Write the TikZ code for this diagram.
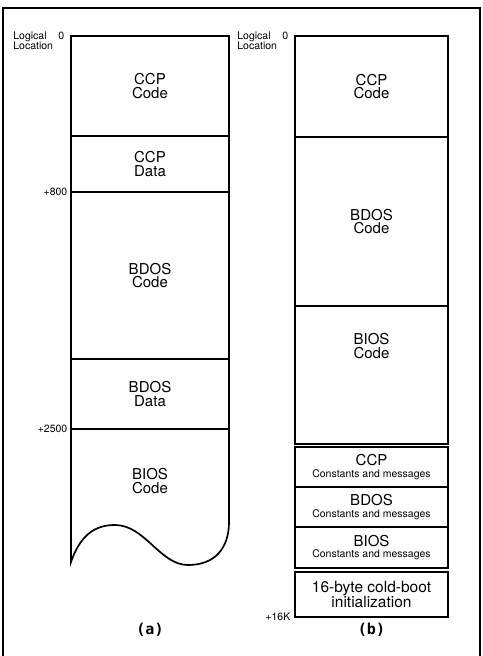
\documentclass[tikz,border=0pt]{standalone}
\usepackage{fontspec}
\setmainfont{TeX Gyre Heros}
\newfontfamily\capfont{DejaVu Sans Mono}
\usetikzlibrary{positioning}
\newcommand\msgfont{\fontsize{10.5}{10.5}\selectfont}

\begin{document}
\begin{tikzpicture}[
    x=1pt, y=-1pt,
    font=\fontsize{15}{13.5}\selectfont,
    seg/.style={draw, line width=1.7pt, outer sep=0pt, inner sep=0pt, align=center, anchor=north},
    segA/.style={seg, minimum width=158pt},
    segB/.style={seg, minimum width=153pt},
    lbl/.style={align=center},
    tick/.style={font=\fontsize{10.5}{10}\selectfont, inner sep=0.5pt},
    caption/.style={font=\capfont\bfseries\fontsize{15}{15}\selectfont}
  ]
  \useasboundingbox (0,0) rectangle (482,656);
  \draw[line width=1.2pt] (3,656) -- (3,8) -- (480,8) -- (480,656);

  % (a)
  \node[segA, minimum height=100pt] (ccpcode) at (150,36) {CCP\\Code};
  \node[segA, minimum height=56pt, below=0pt of ccpcode] (ccpdata) {CCP\\Data};
  \node[segA, minimum height=167pt, below=0pt of ccpdata] (bdoscode) {BDOS\\Code};
  \node[segA, minimum height=70pt, below=0pt of bdoscode] (bdosdata) {BDOS\\Data};
  \draw[line width=1.7pt] (bdosdata.south west) -- (71,562)
    .. controls (82,530) and (100,525) .. (115,525)
    .. controls (145,525) and (160,565) .. (188,565)
    .. controls (215,565) and (229,548) .. (229,522) -- (bdosdata.south east);
  \node[lbl, below=36pt of bdosdata.south] (bioscode) {BIOS\\Code};
  \node[tick, left=6pt of ccpcode.north west] (zeroa) {0};
  \node[tick, align=left, left=4pt of zeroa.north west, anchor=north east] (loca) {Logical\\Location};
  \node[tick, left=3pt of ccpdata.south west] (p800) {+800};
  \node[tick, left=3pt of bdosdata.south west] (p2500) {+2500};

  % (b)
  \node[segB, minimum height=101pt] (ccpcodeb) at (371.5,36) {CCP\\Code};
  \node[segB, minimum height=169pt, below=0pt of ccpcodeb] (bdoscodeb) {BDOS\\Code};
  \node[segB, minimum height=138pt, below=0pt of bdoscodeb] (bioscodeb) {};
  \node[lbl, below=24pt of bioscodeb.north] (bioslabel) {BIOS\\Code};
  \node[segB, minimum height=40pt, below=3pt of bioscodeb] (ccpconst) {CCP\\[-2pt]{\msgfont Constants and messages}};
  \node[segB, minimum height=40pt, below=0pt of ccpconst] (bdosconst) {BDOS\\[-2pt]{\msgfont Constants and messages}};
  \node[segB, minimum height=41pt, below=0pt of bdosconst] (biosconst) {BIOS\\[-2pt]{\msgfont Constants and messages}};
  \node[segB, minimum height=45pt, below=4pt of biosconst, font=\fontsize{15.5}{13.5}\selectfont] (coldboot) {16-byte cold-boot\\initialization};
  \node[tick, left=6pt of ccpcodeb.north west] (zerob) {0};
  \node[tick, align=left, left=4pt of zerob.north west, anchor=north east] (locb) {Logical\\Location};
  \node[tick, left=4pt of coldboot.south west] (p16k) {+16K};

  \node[caption, below=3pt of coldboot] (capb) {(b)};
  \node[caption] (capa) at (ccpcode |- capb) {(a)};
\end{tikzpicture}
\end{document}
